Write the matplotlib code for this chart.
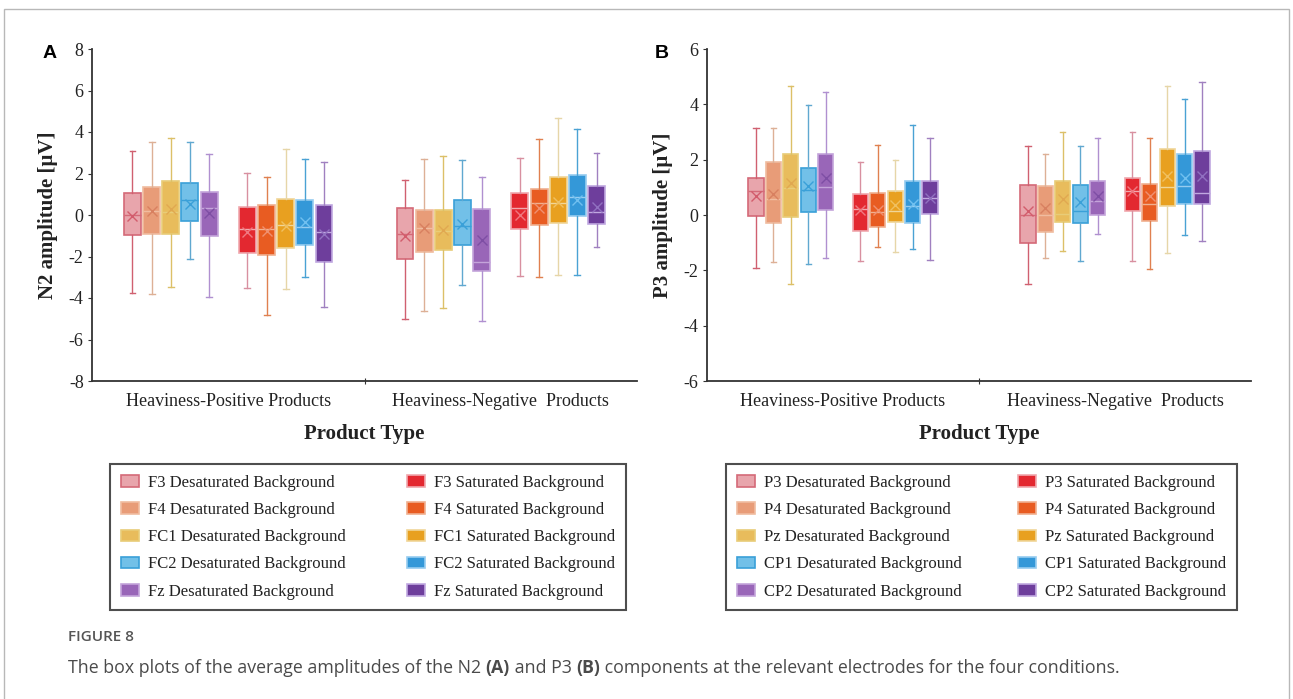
# box plots of N2 and P3 amplitudes, two panels with shared legend style
import matplotlib
matplotlib.use("Agg")
import matplotlib.pyplot as plt
from matplotlib.patches import Patch, Rectangle

# categories on the x axis
categories = ["Heaviness-Positive Products", "Heaviness-Negative  Products"]

# series names per panel (5 desaturated + 5 saturated)
n2_sites = ["F3", "F4", "FC1", "FC2", "Fz"]
p3_sites = ["P3", "P4", "Pz", "CP1", "CP2"]

# N2 stats, one row per category, 10 boxes per row
n2_whishi = [[3.09, 3.52, 3.70, 3.52, 2.92, 2.03, 1.85, 3.18, 2.70, 2.54],
             [1.69, 2.70, 2.83, 2.65, 1.85, 2.75, 3.65, 4.66, 4.15, 2.97]]
n2_q3 = [[1.06, 1.33, 1.65, 1.54, 1.12, 0.40, 0.48, 0.75, 0.70, 0.50],
         [0.35, 0.22, 0.26, 0.70, 0.27, 1.08, 1.25, 1.85, 1.93, 1.38]]
n2_med = [[0.00, 0.21, 0.16, 0.74, 0.35, -0.66, -0.69, -0.48, -0.56, -0.84],
          [-0.92, -0.65, -0.76, -0.52, -2.28, 0.35, 0.59, 0.59, 0.85, 0.16]]
n2_q1 = [[-0.96, -0.93, -0.90, -0.29, -1.01, -1.83, -1.95, -1.61, -1.45, -2.27],
         [-2.12, -1.79, -1.71, -1.43, -2.70, -0.68, -0.47, -0.39, -0.05, -0.43]]
n2_whislo = [[-3.75, -3.80, -3.46, -2.12, -3.97, -3.54, -4.82, -3.57, -2.99, -4.41],
             [-5.03, -4.65, -4.49, -3.36, -5.11, -2.93, -2.99, -2.88, -2.88, -1.56]]
n2_mean = [[-0.07, 0.20, 0.29, 0.51, 0.10, -0.84, -0.76, -0.52, -0.36, -0.90],
           [-1.00, -0.65, -0.70, -0.43, -1.20, 0.01, 0.34, 0.64, 0.74, 0.40]]

# P3 stats
p3_whishi = [[3.16, 3.16, 4.68, 3.96, 4.45, 1.92, 2.52, 1.98, 3.27, 2.78],
             [2.48, 2.19, 3.00, 2.48, 2.77, 3.00, 2.77, 4.68, 4.18, 4.80]]
p3_q3 = [[1.34, 1.92, 2.19, 1.71, 2.19, 0.75, 0.78, 0.85, 1.23, 1.23],
         [1.10, 1.04, 1.24, 1.10, 1.24, 1.34, 1.13, 2.39, 2.22, 2.30]]
p3_med = [[0.86, 0.57, 0.96, 0.90, 1.03, 0.22, 0.10, 0.13, 0.33, 0.62],
          [0.01, 0.00, 0.02, 0.16, 0.52, 0.86, 0.41, 1.01, 1.06, 0.80]]
p3_q1 = [[-0.05, -0.29, -0.08, 0.11, 0.17, -0.59, -0.43, -0.24, -0.30, 0.03],
         [-1.00, -0.60, -0.24, -0.28, -0.01, 0.15, -0.20, 0.34, 0.40, 0.39]]
p3_whislo = [[-1.91, -1.69, -2.50, -1.77, -1.55, -1.67, -1.17, -1.32, -1.23, -1.64],
             [-2.48, -1.55, -1.30, -1.65, -0.69, -1.65, -1.94, -1.36, -0.71, -0.94]]
p3_mean = [[0.70, 0.77, 1.16, 1.06, 1.34, 0.17, 0.19, 0.37, 0.40, 0.60],
           [0.13, 0.25, 0.58, 0.47, 0.70, 0.88, 0.68, 1.40, 1.34, 1.40]]

# colours: face, edge, whisker
face = ["#E8A5AC", "#E89C78", "#E8BC5C", "#72C0E8", "#9966B8",
        "#E32830", "#E85C22", "#E8A020", "#3498D8", "#6E3E9C"]
edge = ["#D46A78", "#F0BCA0", "#E8CC78", "#3AA0D8", "#C4A4DA",
        "#F0A8AE", "#F0B090", "#F0D698", "#96CCF0", "#C0A8E0"]
whisk = ["#D06070", "#DDB096", "#DCC068", "#60A8D0", "#B090D0",
         "#D890A0", "#E08050", "#E6D6A8", "#4AA2D4", "#A080C0"]
meanc = ["#D25C6C", "#D88060", "#E0A850", "#3AA0D8", "#7E4EA4",
         "#F07880", "#F09070", "#F0C060", "#70C0F0", "#9070C0"]

slots = [-5, -4, -3, -2, -1, 1, 2, 3, 4, 5]

plt.rcParams["font.family"] = ["Liberation Serif", "DejaVu Serif"]

fig = plt.figure(figsize=(12.93, 6.99), dpi=100)
W, H = 1293, 699


def draw_panel(ax, whislo, q1, med, q3, whishi, mean, step, bw, ylim, yticks, ylabel):
    for c in range(len(categories)):
        for i in range(10):
            st = [dict(whislo=whislo[c][i], q1=q1[c][i], med=med[c][i],
                       q3=q3[c][i], whishi=whishi[c][i], mean=mean[c][i], fliers=[])]
            ax.bxp(st, positions=[c + 0.5 + slots[i] * step], widths=bw,
                   patch_artist=True, showmeans=True, showfliers=False,
                   capwidths=bw * 0.35, manage_ticks=False,
                   boxprops=dict(facecolor=face[i], edgecolor=edge[i], linewidth=1.2),
                   whiskerprops=dict(color=whisk[i], linewidth=1.0),
                   capprops=dict(color=whisk[i], linewidth=1.0),
                   medianprops=dict(color=edge[i], linewidth=1.0),
                   meanprops=dict(marker="x", markeredgecolor=meanc[i],
                                  markersize=7, markeredgewidth=1.0))
    ax.set_xlim(0, 2)
    ax.set_ylim(*ylim)
    ax.set_yticks(yticks)
    ax.set_yticklabels([str(t) for t in yticks])
    ax.set_xticks([1])
    ax.set_xticklabels([""])
    ax.set_xticks([0.5, 1.5], minor=True)
    ax.set_xticklabels(categories, minor=True, fontsize=13, color="#222222")
    ax.tick_params(axis="x", which="minor", length=0, pad=9)
    ax.tick_params(axis="x", which="major", length=4, direction="inout", color="#333333")
    ax.tick_params(axis="y", labelsize=13, length=3, color="#333333", labelcolor="#222222", pad=3)
    for s in ["top", "right"]:
        ax.spines[s].set_visible(False)
    for s in ["left", "bottom"]:
        ax.spines[s].set_color("#333333")
        ax.spines[s].set_linewidth(1.3)
    ax.set_ylabel(ylabel, fontsize=15, fontweight="bold", color="#222222", labelpad=8)
    ax.set_xlabel("Product Type", fontsize=15, fontweight="bold", color="#222222", labelpad=10)


axA = fig.add_axes([92 / W, 1 - 381 / H, 545 / W, 332 / H])
draw_panel(axA, n2_whislo, n2_q1, n2_med, n2_q3, n2_whishi, n2_mean,
           0.0703, 0.062, (-8, 8), list(range(-8, 9, 2)), "N2 amplitude [\u03bcV]")

axB = fig.add_axes([707 / W, 1 - 381 / H, 544 / W, 332 / H])
draw_panel(axB, p3_whislo, p3_q1, p3_med, p3_q3, p3_whishi, p3_mean,
           0.064, 0.056, (-6, 6), list(range(-6, 7, 2)), "P3 amplitude [\u03bcV]")

# panel letters
fig.text(50 / W, 1 - 53 / H, "A", fontsize=14, fontweight="bold", family="Liberation Sans",
         ha="center", va="center")
fig.text(662 / W, 1 - 53 / H, "B", fontsize=14, fontweight="bold", family="Liberation Sans",
         ha="center", va="center")


def add_legend(sites, x0, x1):
    handles = []
    labels = []
    for i in range(10):
        kind = "Desaturated" if i < 5 else "Saturated"
        handles.append(Patch(facecolor=face[i], edgecolor=edge[i], linewidth=1.2))
        labels.append(f"{sites[i % 5]} {kind} Background")
    leg = fig.legend(handles, labels, ncol=2, loc="upper left",
                     bbox_to_anchor=(x0 / W, 1 - 464 / H, (x1 - x0) / W, 0),
                     mode="expand", fontsize=12, frameon=True, fancybox=False,
                     handlelength=1.1, handleheight=0.7, handletextpad=0.55,
                     labelspacing=0.67, borderpad=0.65, borderaxespad=0,
                     columnspacing=0.6)
    leg.get_frame().set_edgecolor("#222222")
    leg.get_frame().set_linewidth(1.5)
    for t in leg.get_texts():
        t.set_color("#222222")


add_legend(n2_sites, 110, 626)
add_legend(p3_sites, 726, 1237)

# outer frame
fig.patches.append(Rectangle((4 / W, -0.02), 1285 / W, 1.02 - 9 / H,
                             transform=fig.transFigure, fill=False,
                             edgecolor="#b8b8b8", linewidth=1.0))

# caption
fig.text(68 / W, 1 - 637 / H, "FIGURE 8", fontsize=11, family="Open Sans",
         fontweight="semibold", color="#555555", va="center")

parts = [("The box plots of the average amplitudes of the N2 ", "normal"),
         ("(A)", "bold"),
         (" and P3 ", "normal"),
         ("(B)", "bold"),
         (" components at the relevant electrodes for the four conditions.", "normal")]
renderer = fig.canvas.get_renderer()
xpos = 68
for txt, wt in parts:
    t = fig.text(xpos / W, 1 - 668 / H, txt, fontsize=12.8, family="Open Sans",
                 fontweight=wt, color="#4a4a4a", va="center")
    bb = t.get_window_extent(renderer=renderer)
    xpos += bb.width

fig.savefig("out.png", dpi=100)
